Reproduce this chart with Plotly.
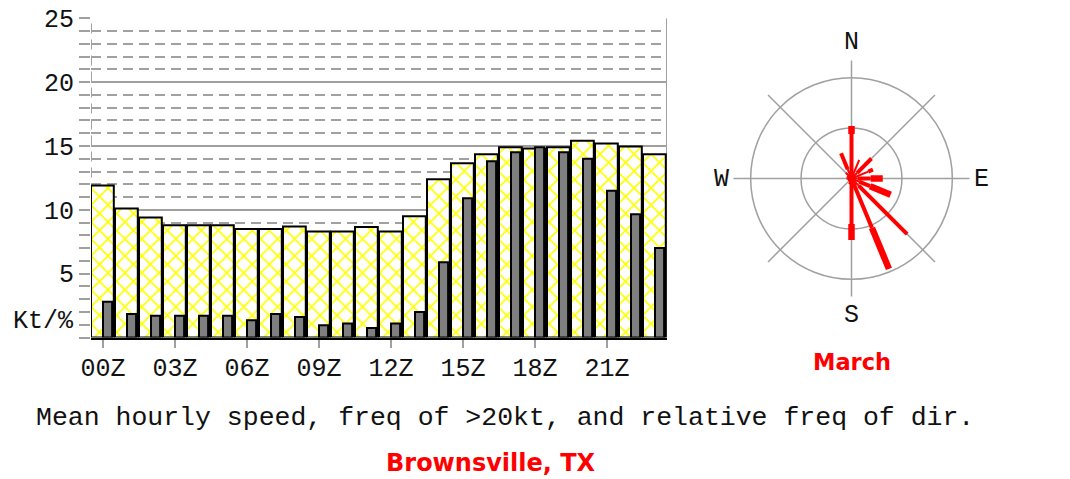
import plotly.graph_objects as go

# ---------------- data ----------------
hours = [f"{h:02d}Z" for h in range(24)]
tick_hours = [0, 3, 6, 9, 12, 15, 18, 21]
mean_speed = [11.9, 10.1, 9.4, 8.8, 8.8, 8.8, 8.5, 8.5, 8.7, 8.3, 8.3, 8.65,
              8.3, 9.5, 12.4, 13.65, 14.35, 14.9, 14.8, 14.9, 15.4, 15.2, 14.95, 14.35]
freq_gt20 = [2.8, 1.85, 1.7, 1.7, 1.7, 1.7, 1.35, 1.85, 1.6, 0.95, 1.1, 0.75,
             1.1, 2.0, 5.9, 10.9, 13.8, 14.5, 14.9, 14.5, 14.0, 11.5, 9.65, 7.0]

# wind rose: 16 compass directions, segment lengths per speed class
rose_dirs = [0, 22.5, 45, 67.5, 90, 112.5, 135, 157.5,
             180, 202.5, 225, 247.5, 270, 292.5, 315, 337.5]
rose_light = [4, 20, 8, 18, 6, 8, 10, 5, 3, 6, 4, 4, 5, 5, 8, 10]
rose_moder = [40, 0, 20, 5, 13, 12, 68, 48, 42, 0, 0, 0, 0, 0, 0, 17]
rose_strong = [8, 0, 0, 0, 12, 22, 0, 44, 16, 0, 0, 0, 0, 0, 0, 0]
rose_rings = [50, 100]
compass = ["N", "E", "S", "W"]
month = "March"
station = "Brownsville, TX"
caption = "Mean hourly speed, freq of >20kt, and relative freq of dir."
y_ticks = [5, 10, 15, 20, 25]

W, H = 1070, 479
MONO = "Liberation Mono, Courier New, monospace"
SANS = "DejaVu Sans, Verdana, sans-serif"
GRID = "#a0a0a0"

x = list(range(24))

fig = go.Figure()
fig.add_trace(go.Bar(
    x=x, y=mean_speed, offset=-0.5, width=0.95,
    marker=dict(color="#ffff00",
                pattern=dict(shape="x", fgcolor="#ffff00", bgcolor="white",
                             size=12, solidity=0.25, fillmode="replace"),
                line=dict(color="black", width=2)),
    hoverinfo="skip", showlegend=False))
fig.add_trace(go.Bar(
    x=x, y=freq_gt20, offset=0.0, width=0.38,
    marker=dict(color="#7f7f7f", line=dict(color="black", width=2)),
    hoverinfo="skip", showlegend=False))


def seg_trace(start_list, len_list, width):
    r, th = [], []
    for d, s, l in zip(rose_dirs, start_list, len_list):
        if l <= 0:
            continue
        r += [s, s + l, None]
        th += [d, d, None]
    return go.Scatterpolar(r=r, theta=th, mode="lines",
                           line=dict(color="#ff0000", width=width),
                           hoverinfo="skip", showlegend=False)


zeros = [0] * len(rose_dirs)
start_m = rose_light
start_s = [a + b for a, b in zip(rose_light, rose_moder)]
fig.add_trace(seg_trace(zeros, rose_light, 2))
fig.add_trace(seg_trace(start_m, rose_moder, 4))
fig.add_trace(seg_trace(start_s, rose_strong, 6.5))

# plot-area geometry (pixels)
px_l, px_r, px_t, px_b = 91, 667, 18.3, 337.5
cx, cy, R = 851.5, 178.5, 118

fig.update_layout(
    template="none",
    width=W, height=H,
    margin=dict(l=0, r=0, t=0, b=0),
    paper_bgcolor="white", plot_bgcolor="white",
    barmode="overlay", bargap=0,
    xaxis=dict(domain=[px_l / W, px_r / W], range=[-0.5, 23.5],
               tickvals=tick_hours, ticktext=[hours[i] for i in tick_hours],
               ticks="outside", ticklen=8, tickcolor=GRID, tickwidth=2,
               showgrid=False, zeroline=False, showline=True,
               linecolor="black", linewidth=2, automargin=False,
               tickfont=dict(family=MONO, size=25, color="#111"),
               ticklabelstandoff=-2, fixedrange=True),
    yaxis=dict(domain=[1 - px_b / H, 1 - px_t / H], range=[0, 25],
               tickvals=y_ticks, ticks="outside", ticklen=11,
               tickcolor=GRID, tickwidth=2,
               showgrid=True, gridcolor=GRID, gridwidth=2,
               zeroline=False, showline=False, automargin=False,
               minor=dict(dtick=1, tick0=0, ticks="outside", ticklen=11,
                          tickcolor=GRID, tickwidth=2, showgrid=True,
                          gridcolor=GRID, gridwidth=2, griddash="10px,6px"),
               tickfont=dict(family=MONO, size=25, color="#111"),
               ticklabelstandoff=0, fixedrange=True),
    polar=dict(
        domain=dict(x=[(cx - R) / W, (cx + R) / W],
                    y=[1 - (cy + R) / H, 1 - (cy - R) / H]),
        bgcolor="rgba(0,0,0,0)",
        radialaxis=dict(range=[0, 117], tickvals=rose_rings, showticklabels=False,
                        ticks="", showline=False, gridcolor=GRID, gridwidth=1.5),
        angularaxis=dict(direction="clockwise", rotation=90,
                         tickvals=[0, 45, 90, 135, 180, 225, 270, 315],
                         showticklabels=False, ticks="", showline=False,
                         gridcolor=GRID, gridwidth=1.5),
    ),
)

# plot frame: dashed left edge, solid right edge
fig.add_shape(type="line", xref="x", yref="y", x0=-0.5, x1=-0.5, y0=0, y1=25,
              line=dict(color=GRID, width=2, dash="10px,6px"), layer="below")
fig.add_shape(type="line", xref="x", yref="y", x0=23.5, x1=23.5, y0=0, y1=25,
              line=dict(color=GRID, width=2), layer="below")


def px_annot(text, xp, yp, font, xanchor="center"):
    fig.add_annotation(text=text, x=xp / W, y=1 - yp / H, xref="paper", yref="paper",
                       xanchor=xanchor, yanchor="middle", showarrow=False, font=font)


px_annot("Kt/%", 11, 321, dict(family=MONO, size=25, color="#111"), xanchor="left")
comp_pos = [(851.5, 42.5), (981, 179.3), (851.5, 315.7), (721, 179.3)]
for lab, (xp, yp) in zip(compass, comp_pos):
    px_annot(lab, xp, yp, dict(family=MONO, size=25, color="#111"))
px_annot(month, 852, 362, dict(family=SANS, size=22.5, color="#ff0000", weight="bold"))
px_annot(caption, 505, 418, dict(family=MONO, size=26.5, color="#111"))
px_annot(station, 491, 462.5, dict(family=SANS, size=24, color="#ff0000", weight="bold"))

fig.write_html("out.html", config={"displayModeBar": False, "staticPlot": True},
               post_script="document.body.style.margin='0';document.body.style.overflow='hidden';")
